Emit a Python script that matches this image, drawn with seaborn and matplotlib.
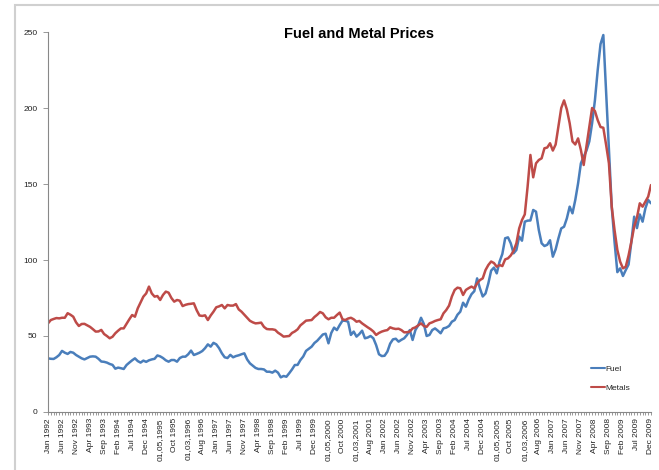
import numpy as np
import pandas as pd

import matplotlib
matplotlib.use("Agg")
import matplotlib.pyplot as plt
from matplotlib.patches import Rectangle
import seaborn as sns

# =====================
# DATA (monthly, Jan 1992 - Dec 2009)
# =====================

fuel = [
    35.3, 35.0, 34.9, 36.0, 37.5, 40.2, 39.0, 38.2, 39.5, 39.0, 37.5, 36.4,   # 1992
    35.3, 34.6, 35.5, 36.4, 36.6, 36.4, 35.0, 33.2, 33.0, 32.5, 31.6, 31.0,   # 1993
    28.5, 29.2, 28.8, 28.3, 30.9, 32.5, 34.0, 35.3, 33.5, 32.5, 33.8, 33.0,   # 1994
    34.0, 34.6, 35.0, 37.2, 36.6, 35.5, 34.0, 33.1, 34.2, 34.2, 33.1, 35.5,   # 1995
    36.4, 36.4, 38.0, 40.4, 37.5, 38.2, 39.0, 40.1, 42.0, 44.5, 43.0, 45.5,   # 1996
    44.5, 42.0, 38.6, 36.0, 35.5, 37.6, 36.0, 36.8, 37.3, 38.0, 38.6, 34.6,   # 1997
    32.0, 30.5, 29.0, 28.3, 28.3, 28.0, 26.5, 26.5, 25.9, 27.2, 25.9, 22.8,   # 1998
    23.7, 23.2, 25.5, 28.0, 30.9, 31.0, 34.2, 36.5, 40.2, 41.6, 43.0, 45.4,   # 1999
    46.9, 49.0, 51.0, 51.5, 45.2, 52.0, 55.5, 53.9, 57.2, 60.1, 60.0, 59.4,   # 2000
    50.7, 52.9, 49.6, 51.3, 53.5, 48.5, 49.0, 50.0, 48.5, 44.0, 38.0, 36.8,   # 2001
    37.0, 39.7, 45.0, 47.8, 48.2, 46.3, 47.5, 48.5, 50.7, 53.9, 47.4, 53.9,   # 2002
    57.0, 62.0, 58.0, 50.0, 50.7, 53.9, 55.0, 53.5, 51.8, 55.0, 55.5, 56.6,   # 2003
    59.4, 60.5, 64.0, 66.0, 71.9, 69.3, 74.0, 77.5, 79.5, 87.9, 81.4, 76.0,   # 2004
    78.0, 84.6, 93.0, 95.0, 91.2, 98.9, 104.0, 114.3, 114.9, 111.0, 104.4, 106.6,   # 2005
    115.4, 112.7, 125.2, 125.9, 126.0, 132.9, 131.8, 119.7, 111.0, 109.2, 110.0, 113.0,   # 2006
    102.2, 107.0, 114.3, 120.8, 121.9, 127.4, 135.1, 130.7, 139.5, 150.4, 163.6, 168.0,   # 2007
    172.0, 178.0, 190.0, 205.0, 225.0, 242.0, 248.0, 210.0, 172.0, 135.0, 112.0, 92.0,   # 2008
    94.5, 89.5, 93.4, 97.0, 112.0, 128.5, 121.0, 130.0, 125.2, 134.0, 139.5, 137.3,   # 2009
]

metals = [
    58.3, 60.5, 61.2, 61.8, 61.6, 62.0, 62.0, 65.0, 64.0, 62.7, 59.0, 56.6,   # 1992
    57.9, 58.0, 57.0, 56.0, 54.5, 52.9, 53.0, 54.0, 51.3, 50.0, 48.5, 49.5,   # 1993
    51.8, 53.5, 55.0, 55.0, 58.0, 61.0, 63.8, 62.7, 68.2, 72.0, 75.9, 78.0,   # 1994
    82.5, 78.0, 75.9, 76.3, 73.7, 77.0, 79.2, 78.5, 75.0, 72.6, 73.7, 73.2,   # 1995
    69.7, 70.5, 71.0, 71.2, 71.5, 67.0, 63.5, 63.2, 63.6, 60.5, 63.5, 66.0,   # 1996
    68.9, 69.5, 70.4, 68.2, 70.4, 70.0, 70.0, 71.0, 67.5, 66.0, 64.0, 62.0,   # 1997
    60.0, 59.0, 58.3, 58.5, 58.8, 56.0, 54.6, 54.4, 54.4, 54.0, 52.2, 51.0,   # 1998
    49.6, 49.8, 50.0, 52.0, 53.0, 54.4, 57.0, 58.5, 60.1, 60.3, 60.5, 62.5,   # 1999
    64.0, 65.8, 64.9, 62.3, 61.0, 62.0, 62.0, 63.8, 65.4, 61.0, 60.5, 61.5,   # 2000
    62.0, 61.0, 59.4, 59.9, 58.3, 57.0, 55.7, 54.5, 53.0, 50.7, 52.0, 52.9,   # 2001
    53.5, 53.9, 55.7, 55.0, 54.6, 54.8, 53.9, 52.4, 52.5, 52.9, 55.0, 55.7,   # 2002
    57.0, 58.3, 56.6, 56.0, 58.3, 59.0, 59.9, 60.5, 61.0, 64.9, 67.1, 70.0,   # 2003
    76.0, 80.3, 81.8, 81.4, 77.0, 80.3, 81.5, 82.5, 81.4, 84.6, 86.8, 87.9,   # 2004
    93.4, 96.7, 99.0, 98.0, 95.6, 96.7, 96.0, 100.4, 101.1, 103.0, 106.0, 111.0,   # 2005
    120.8, 126.3, 130.0, 148.2, 169.1, 154.4, 163.6, 165.8, 166.9, 173.5, 174.0, 176.8,   # 2006
    172.0, 176.0, 188.0, 200.0, 205.0, 199.0, 190.0, 178.0, 176.0, 180.0, 172.4, 162.5,   # 2007
    175.0, 188.0, 200.0, 198.0, 192.0, 187.5, 187.0, 175.7, 163.6, 135.0, 119.7, 106.6,   # 2008
    98.9, 94.5, 95.6, 103.0, 112.0, 122.0, 128.0, 137.3, 135.1, 138.4, 141.7, 149.3,   # 2009
]

tick_labels = [
    "Jan 1992", "Jun 1992", "Nov 1992", "Apr 1993", "Sep 1993", "Feb 1994",
    "Jul 1994", "Dec 1994", "01,05,1995", "Oct 1995", "01,03,1996", "Aug 1996",
    "Jan 1997", "Jun 1997", "Nov 1997", "Apr 1998", "Sep 1998", "Feb 1999",
    "Jul 1999", "Dec 1999", "01,05,2000", "Oct 2000", "01,03,2001", "Aug 2001",
    "Jan 2002", "Jun 2002", "Nov 2002", "Apr 2003", "Sep 2003", "Feb 2004",
    "Jul 2004", "Dec 2004", "01,05,2005", "Oct 2005", "01,03,2006", "Aug 2006",
    "Jan 2007", "Jun 2007", "Nov 2007", "Apr 2008", "Sep 2008", "Feb 2009",
    "Jul 2009", "Dec 2009",
]

series_names = ["Fuel", "Metals"]
colors = {"Fuel": "#4a7ebb", "Metals": "#be4b48"}

# =====================
# LONG TABLE FOR SEABORN
# =====================

month = np.arange(len(fuel))

df = pd.DataFrame({
    "month": np.concatenate([month, month]),
    "price": fuel + metals,
    "series": ["Fuel"] * len(fuel) + ["Metals"] * len(metals),
})

# =====================
# PLOT
# =====================

sns.set_style("white")
plt.rcParams["font.family"] = ["Liberation Sans", "DejaVu Sans"]

fig = plt.figure(figsize=(6.59, 4.70), dpi=100)
ax = fig.add_axes([48 / 659, 1 - 412 / 470, 603 / 659, 380 / 470])

sns.lineplot(
    data=df,
    x="month",
    y="price",
    hue="series",
    hue_order=series_names,
    palette=colors,
    linewidth=1.8,
    ax=ax
)

ax.set_xlim(0, len(fuel) - 1)
ax.set_ylim(0, 250)
ax.set_yticks(range(0, 251, 50))
ax.set_xticks(np.arange(0, len(fuel), 5))
ax.set_xticklabels(tick_labels, rotation=90)
ax.set_xticks(month, minor=True)

ax.set_xlabel("")
ax.set_ylabel("")

for side in ["top", "right"]:
    ax.spines[side].set_visible(False)
for side in ["left", "bottom"]:
    ax.spines[side].set_color("#888888")
    ax.spines[side].set_linewidth(0.8)

ax.tick_params(axis="both", which="both", direction="out", color="#888888",
               labelsize=6, labelcolor="#222222", width=0.6)
ax.tick_params(axis="x", which="both", length=2.5, bottom=True, pad=2)
ax.tick_params(axis="y", which="major", length=3.5, left=True, pad=4)

fig.text(0.545, 1 - 34 / 470, "Fuel and Metal Prices", ha="center",
         va="center", fontsize=10.5, fontweight="bold", color="#000000")

ax.legend(
    loc="upper left",
    bbox_to_anchor=(583 / 659, 1 - 358 / 470),
    bbox_transform=fig.transFigure,
    frameon=False,
    fontsize=6,
    handlelength=1.7,
    handletextpad=0.1,
    labelspacing=1.25,
)
for line in ax.get_legend().get_lines():
    line.set_linewidth(1.5)

# chart area border
fig.patches.append(Rectangle(
    (15 / 659, -0.05), 1.0, 1 - 5 / 470 + 0.05,
    transform=fig.transFigure, fill=False,
    edgecolor="#d0d0d0", linewidth=1.5
))

fig.savefig("out.png", dpi=100)
